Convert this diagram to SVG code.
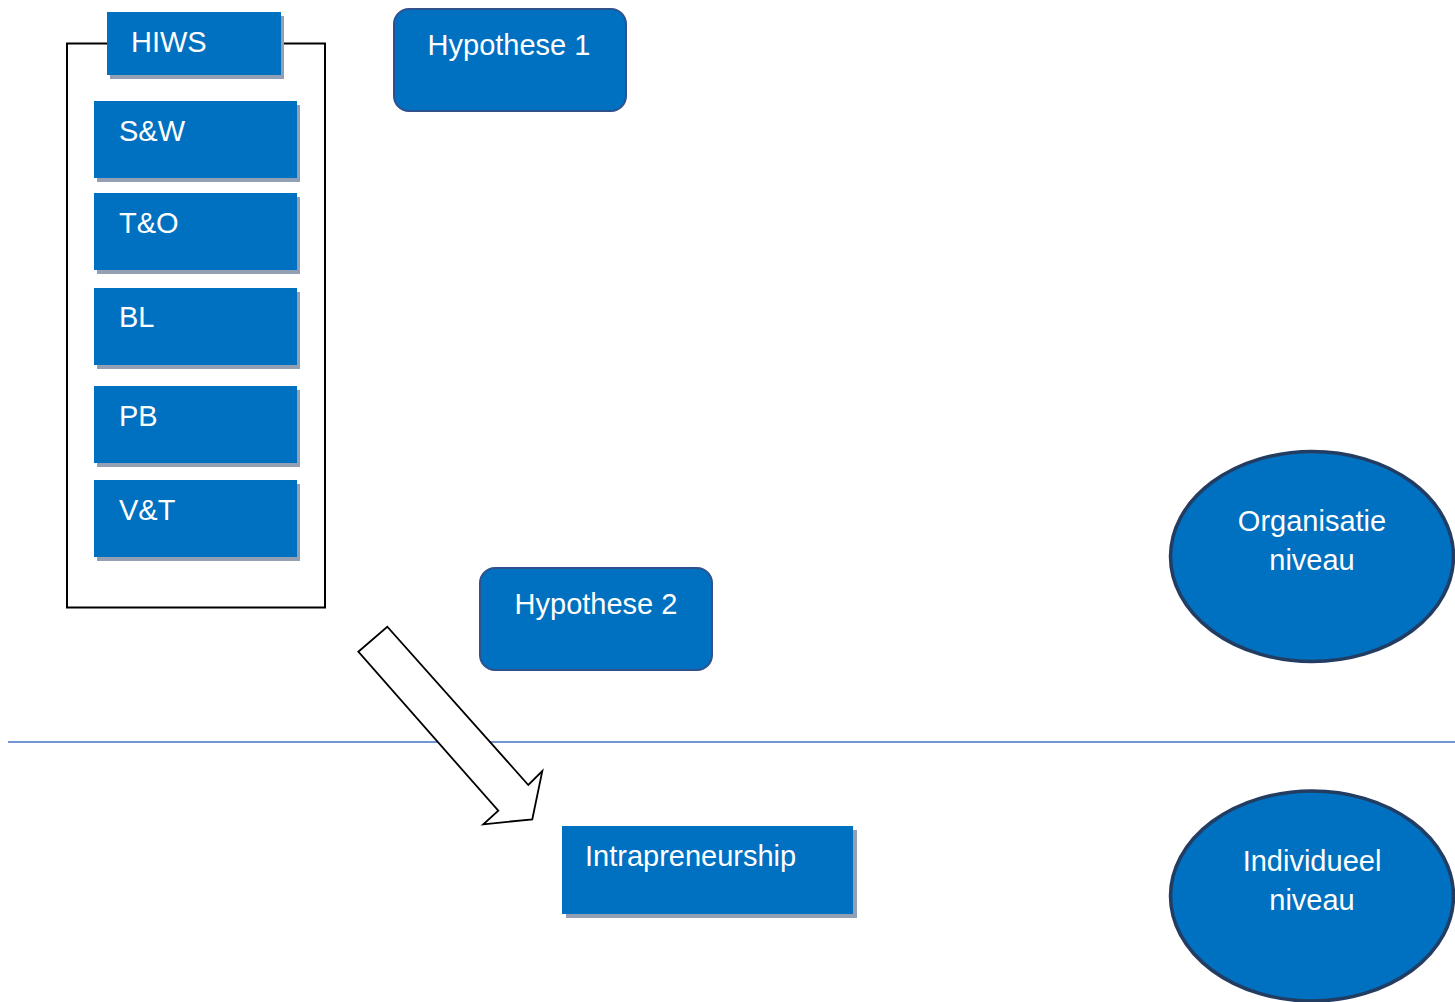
<svg xmlns="http://www.w3.org/2000/svg" width="1455" height="1002" viewBox="0 0 1455 1002">
<style>
.box{fill:#0070c0}
.sh{fill:#939fb2}
.rbox{fill:#0070c0;stroke:#2f528f;stroke-width:2}
.ell{fill:#0070c0;stroke:#223c62;stroke-width:3.5}
.t{font-family:"Liberation Sans",Arial,sans-serif;font-size:29px;fill:#ffffff}
.c{text-anchor:middle}
</style>
<rect width="1455" height="1002" fill="#ffffff"/>
<g id="connectors">
<line x1="8" y1="742" x2="1455" y2="742" stroke="#4472c4" stroke-width="1.6"/>
<polygon points="358.3,651.7 387.3,626.7 528.3,785 542.3,771 532.3,819.3 483.3,824.3 498.3,810.7" fill="#ffffff" stroke="#000000" stroke-width="1.8" stroke-linejoin="miter"/>
</g>
<g id="container">
<rect x="67" y="43.5" width="258" height="564" fill="none" stroke="#000000" stroke-width="2"/>
</g>
<g id="hiws">
<rect class="sh" x="110" y="16" width="174" height="63"/>
<rect class="box" x="107" y="12" width="174" height="63"/>
<text class="t" x="131" y="52">HIWS</text>
</g>
<g id="sw">
<rect class="sh" x="97" y="105" width="203" height="77"/>
<rect class="box" x="94" y="101" width="203" height="77"/>
<text class="t" x="119" y="141">S&amp;W</text>
</g>
<g id="to">
<rect class="sh" x="97" y="197" width="203" height="77"/>
<rect class="box" x="94" y="193" width="203" height="77"/>
<text class="t" x="119" y="233">T&amp;O</text>
</g>
<g id="bl">
<rect class="sh" x="97" y="292" width="203" height="77"/>
<rect class="box" x="94" y="288" width="203" height="77"/>
<text class="t" x="119" y="327">BL</text>
</g>
<g id="pb">
<rect class="sh" x="97" y="390" width="203" height="77"/>
<rect class="box" x="94" y="386" width="203" height="77"/>
<text class="t" x="119" y="426">PB</text>
</g>
<g id="vt">
<rect class="sh" x="97" y="484" width="203" height="77"/>
<rect class="box" x="94" y="480" width="203" height="77"/>
<text class="t" x="119" y="520">V&amp;T</text>
</g>
<g id="hyp1">
<rect class="rbox" x="394" y="9" width="232" height="102" rx="15"/>
<text class="t c" x="509" y="55">Hypothese 1</text>
</g>
<g id="hyp2">
<rect class="rbox" x="480" y="568" width="232" height="102" rx="15"/>
<text class="t c" x="596" y="614">Hypothese 2</text>
</g>
<g id="intra">
<rect class="sh" x="566" y="830" width="291" height="88"/>
<rect class="box" x="562" y="826" width="291" height="88"/>
<text class="t" x="585" y="866">Intrapreneurship</text>
</g>
<g id="org">
<ellipse class="ell" cx="1312" cy="556.5" rx="141.5" ry="105"/>
<text class="t c" x="1312" y="531">Organisatie</text>
<text class="t c" x="1312" y="570">niveau</text>
</g>
<g id="ind">
<ellipse class="ell" cx="1312" cy="896" rx="141.5" ry="105"/>
<text class="t c" x="1312" y="871">Individueel</text>
<text class="t c" x="1312" y="910">niveau</text>
</g>
</svg>
